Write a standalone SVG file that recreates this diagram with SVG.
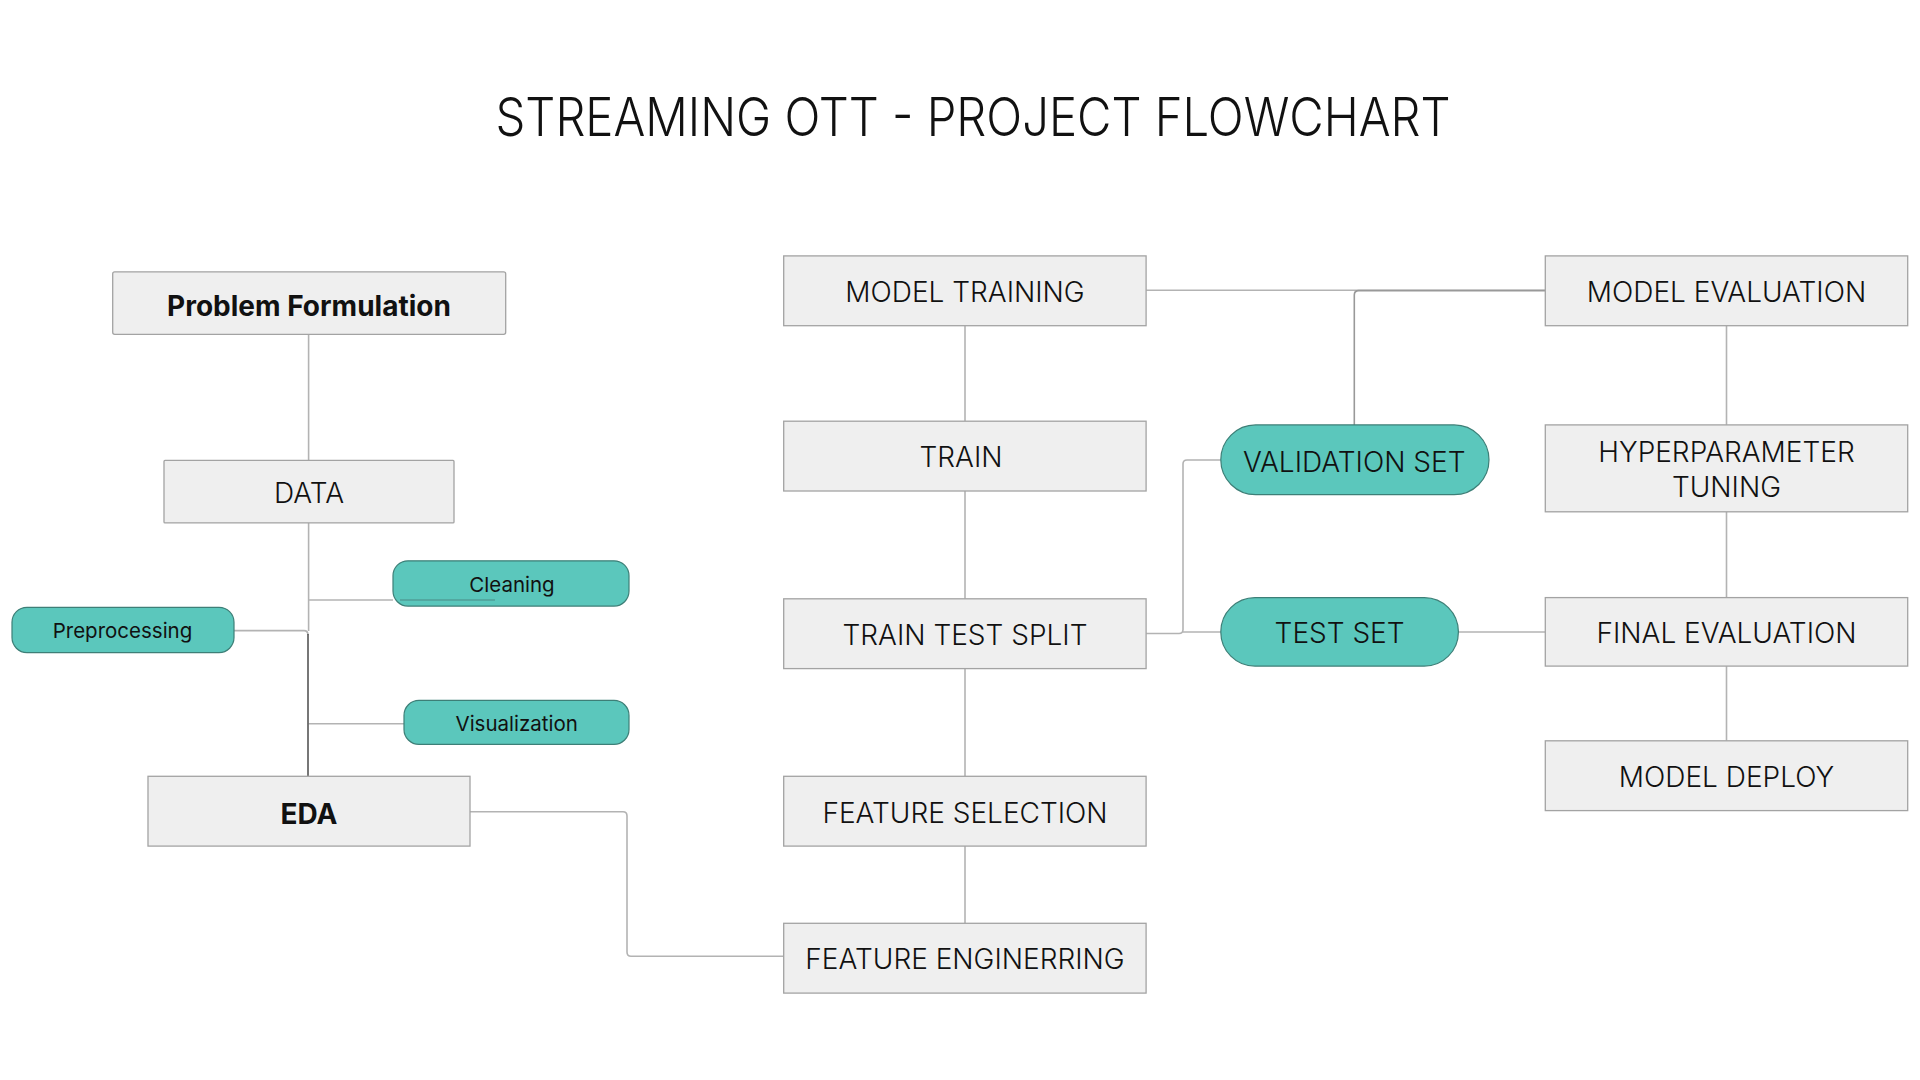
<svg xmlns="http://www.w3.org/2000/svg" width="1920" height="1080" viewBox="0 0 1920 1080">
<style>
.box{fill:#efefef;stroke:#a3a3a3;stroke-width:1.3}
.pill{fill:#5bc7bc;stroke:#3d7f77;stroke-width:1.2}
.t{font-family:Inter,"Noto Sans",sans-serif;font-size:28px;font-weight:300;fill:#111;text-anchor:middle}
.b{font-weight:700;font-size:28px}
.s{font-size:20.5px;font-weight:400}
.title{font-family:Inter,"Noto Sans",sans-serif;font-size:54px;font-weight:300;fill:#111;text-anchor:middle}
.c{fill:none;stroke:#b3b3b3;stroke-width:1.6}
.d{fill:none;stroke:#555;stroke-width:1.6}
</style>
<rect width="1920" height="1080" fill="#ffffff"/>
<text class="title" x="973" y="136" textLength="955" lengthAdjust="spacingAndGlyphs">STREAMING OTT - PROJECT FLOWCHART</text>
<g id="connectors">
<path class="c" d="M308.6,334.3 V460.4"/>
<path class="c" d="M308.6,523 V631"/>
<path class="c" d="M308.6,600 H393"/>
<path class="c" d="M308.6,723.7 H404"/>
<path class="c" d="M234,630.6 H304 Q308,630.6 308,635"/>
<path class="d" d="M308,634 V776.3"/>
<path class="c" d="M470,811.8 H623 Q627,811.8 627,816 V952 Q627,956.3 631,956.3 H783.7"/>
<path class="c" d="M965,325.7 V421.2"/>
<path class="c" d="M965,491 V598.8"/>
<path class="c" d="M965,668.6 V776.3"/>
<path class="c" d="M965,846.1 V923.3"/>
<path class="c" d="M1146.1,290.2 H1545.3"/>
<path class="c" d="M1354.3,424.9 V295 Q1354.3,290.6 1358.6,290.6 H1545.3" style="stroke:#999"/>
<path class="c" d="M1146.1,633.5 H1179 Q1183,633.5 1183,629.5 V464 Q1183,460 1187,460 H1220.8"/>
<path class="c" d="M1183,632 H1220.8"/>
<path class="c" d="M1458.4,632 H1545.3"/>
<path class="c" d="M1726.5,325.7 V424.9"/>
<path class="c" d="M1726.5,511.8 V597.6"/>
<path class="c" d="M1726.5,666.1 V740.8"/>
</g>
<g id="problem-formulation">
<rect class="box" x="112.7" y="271.8" width="393" height="62.5" rx="2"/>
<text class="t b" x="309" y="315.5">Problem Formulation</text>
</g>
<g id="data">
<rect class="box" x="164" y="460.4" width="290" height="62.5" rx="1"/>
<text class="t" x="309" y="503">DATA</text>
</g>
<g id="cleaning">
<rect class="pill" x="393" y="560.8" width="236" height="45.3" rx="15"/>
<path d="M400,600 H495" stroke="#4a8a83" stroke-width="1.2" fill="none"/>
<text class="t s" x="512" y="592">Cleaning</text>
</g>
<g id="preprocessing">
<rect class="pill" x="12" y="607.3" width="222" height="45.3" rx="15"/>
<text class="t s" x="122.5" y="638">Preprocessing</text>
</g>
<g id="visualization">
<rect class="pill" x="404" y="700.4" width="225" height="44" rx="15"/>
<text class="t s" x="516.7" y="731">Visualization</text>
</g>
<g id="eda">
<rect class="box" x="148" y="776.3" width="322" height="69.8"/>
<text class="t b" x="309" y="824">EDA</text>
</g>
<g id="model-training">
<rect class="box" x="783.7" y="255.9" width="362.4" height="69.8"/>
<text class="t" x="965" y="302">MODEL TRAINING</text>
</g>
<g id="train">
<rect class="box" x="783.7" y="421.2" width="362.4" height="69.8"/>
<text class="t" x="961" y="467">TRAIN</text>
</g>
<g id="train-test-split">
<rect class="box" x="783.7" y="598.8" width="362.4" height="69.8"/>
<text class="t" x="965" y="645">TRAIN TEST SPLIT</text>
</g>
<g id="feature-selection">
<rect class="box" x="783.7" y="776.3" width="362.4" height="69.8"/>
<text class="t" x="965" y="823">FEATURE SELECTION</text>
</g>
<g id="feature-engineering">
<rect class="box" x="783.7" y="923.3" width="362.4" height="69.8"/>
<text class="t" x="965" y="968.6">FEATURE ENGINERRING</text>
</g>
<g id="validation-set">
<rect class="pill" x="1220.8" y="424.9" width="268.2" height="69.8" rx="34.9"/>
<text class="t" x="1354.3" y="472">VALIDATION SET</text>
</g>
<g id="test-set">
<rect class="pill" x="1220.8" y="597.6" width="237.6" height="68.5" rx="34.2"/>
<text class="t" x="1339.6" y="643">TEST SET</text>
</g>
<g id="model-evaluation">
<rect class="box" x="1545.3" y="255.9" width="362.4" height="69.8"/>
<text class="t" x="1726.5" y="302">MODEL EVALUATION</text>
</g>
<g id="hyperparameter-tuning">
<rect class="box" x="1545.3" y="424.9" width="362.4" height="86.9"/>
<text class="t" x="1726.5" y="462">HYPERPARAMETER</text>
<text class="t" x="1726.5" y="497">TUNING</text>
</g>
<g id="final-evaluation">
<rect class="box" x="1545.3" y="597.6" width="362.4" height="68.5"/>
<text class="t" x="1726.5" y="643">FINAL EVALUATION</text>
</g>
<g id="model-deploy">
<rect class="box" x="1545.3" y="740.8" width="362.4" height="69.8"/>
<text class="t" x="1726.5" y="787">MODEL DEPLOY</text>
</g>
</svg>
